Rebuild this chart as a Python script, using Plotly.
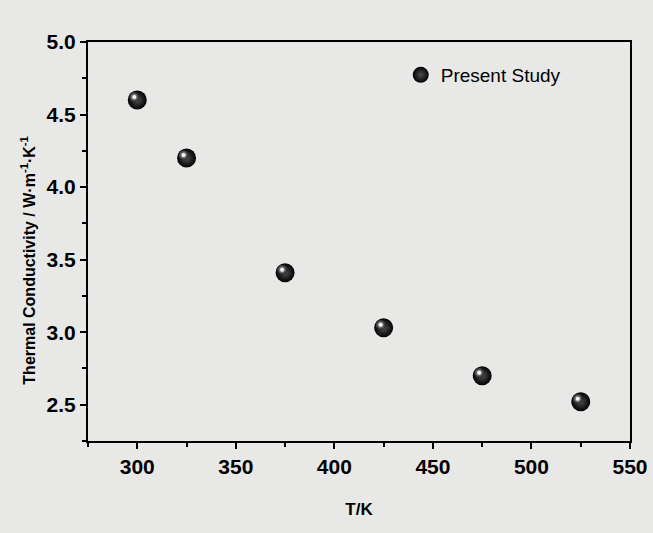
import plotly.graph_objects as go

temperature = [300, 325, 375, 425, 475, 525]
conductivity = [4.60, 4.20, 3.41, 3.03, 2.70, 2.52]
series_name = "Present Study"
x_ticks = [300, 350, 400, 450, 500, 550]
y_ticks = [2.5, 3.0, 3.5, 4.0, 4.5, 5.0]

X_RANGE = [275, 550]
Y_RANGE = [2.25, 5.0]
PLOT_W, PLOT_H = 542, 399
# highlight offset (pixels) expressed as a shift of an overlaid axis range
dx_px, dy_px = 3, 3
dx = dx_px * (X_RANGE[1] - X_RANGE[0]) / PLOT_W
dy = dy_px * (Y_RANGE[1] - Y_RANGE[0]) / PLOT_H

BG = "#e8e8e7"
FONT = "Liberation Sans, Arial"
fig = go.Figure()
fig.add_trace(go.Scatter(
    x=temperature, y=conductivity, mode="markers", name=series_name,
    marker=dict(size=19, color="#000000", symbol="circle",
                gradient=dict(type="radial", color="#505050"),
                line=dict(width=0)),
))
fig.add_trace(go.Scatter(
    x=temperature, y=conductivity, mode="markers", showlegend=False, hoverinfo="skip",
    xaxis="x2", yaxis="y2",
    marker=dict(size=10, color="#202020", symbol="circle",
                gradient=dict(type="radial", color="#c8c8c8"),
                line=dict(width=0)),
))
fig.add_trace(go.Scatter(
    x=temperature, y=conductivity, mode="markers", showlegend=False, hoverinfo="skip",
    xaxis="x2", yaxis="y2",
    marker=dict(size=4, color="#f4f4f4", symbol="circle", line=dict(width=0)),
))

axis_common = dict(
    showgrid=False, zeroline=False, showline=True, linecolor="black", linewidth=2,
    mirror=True, ticks="outside", ticklen=6, tickwidth=2, tickcolor="black",
    tickfont=dict(family=FONT, size=21, color="black", weight="bold"),
    automargin=False,
)
fig.update_xaxes(range=X_RANGE, tickvals=x_ticks, ticktext=[str(v) for v in x_ticks],
                 minor=dict(dtick=25, tick0=275, ticks="outside", ticklen=4, tickwidth=2, tickcolor="black"),
                 title=dict(text="<b>T/K</b>", font=dict(family=FONT, size=17, color="black"),
                            standoff=26),
                 **axis_common)
fig.update_yaxes(range=Y_RANGE, tickvals=y_ticks, ticktext=[f"{v:.1f}" for v in y_ticks],
                 minor=dict(dtick=0.25, tick0=2.25, ticks="outside", ticklen=4, tickwidth=2, tickcolor="black"),
                 **axis_common)
fig.update_layout(
    width=653, height=533, paper_bgcolor=BG, plot_bgcolor=BG,
    margin=dict(l=88, r=23, t=42, b=92),
    xaxis2=dict(overlaying="x", range=[X_RANGE[0] + dx, X_RANGE[1] + dx], visible=False),
    yaxis2=dict(overlaying="y", range=[Y_RANGE[0] - dy, Y_RANGE[1] - dy], visible=False),
    showlegend=True,
    legend=dict(x=0.577, y=0.965, xanchor="left", yanchor="top", bgcolor="rgba(0,0,0,0)",
                font=dict(family=FONT, size=19, color="black")),
    annotations=[dict(
        text="<b>Thermal Conductivity / W·m<sup>-1</sup>·K<sup>-1</sup></b>",
        xref="paper", yref="paper", x=0, y=0.452, xshift=-60, textangle=-90,
        showarrow=False, xanchor="center", yanchor="middle",
        font=dict(family=FONT, size=16, color="black"),
    )],
)
fig.write_html("out.html")
